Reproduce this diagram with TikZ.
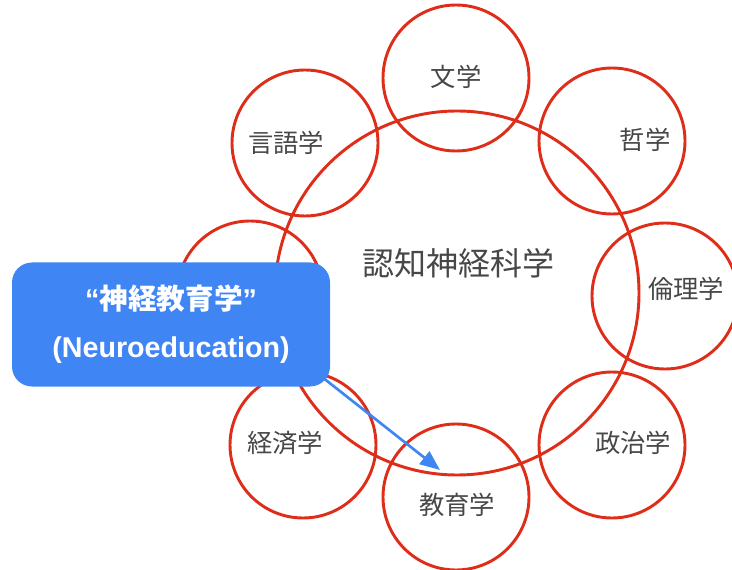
\documentclass[tikz,border=0pt]{standalone}
\usepackage{fontspec}
\setmainfont{Liberation Sans}
\newfontfamily\jp{Noto Sans CJK JP}
\usetikzlibrary{arrows.meta}
\definecolor{ringred}{HTML}{DE2E1A}
\definecolor{boxblue}{HTML}{3F85F4}
\definecolor{labelgray}{HTML}{474747}
\tikzset{
  field/.style={circle, draw=ringred, line width=2.2pt, minimum size=109.5pt, inner sep=0pt},
  core/.style={circle, draw=ringred, line width=2.2pt, minimum size=273pt, inner sep=0pt},
  lbl/.style={text=labelgray, font=\jp\fontsize{19pt}{22pt}\selectfont, inner sep=0pt},
  corelbl/.style={text=labelgray, font=\jp\fontsize{24pt}{28pt}\selectfont, inner sep=0pt},
  callout/.style={fill=boxblue, rounded corners=15pt, minimum width=238.5pt, minimum height=93pt, text=white, align=center, font=\bfseries\fontsize{21.5pt}{36pt}\selectfont, inner sep=0pt},
  pointer/.style={draw=boxblue, line width=2pt, -{Triangle[length=15pt,width=12pt]}}
}
\begin{document}
\begin{tikzpicture}[x=0.75pt,y=0.75pt]
\useasboundingbox (0,0) rectangle (732,-570);
% central circle
\node[core] (cog) at (457,-293) {};
% surrounding circles
\node[field] (wen)   at (456,-78)  {};
\node[field] (zhe)   at (612,-141) {};
\node[field] (lun)   at (665,-296) {};
\node[field] (zheng) at (612,-445) {};
\node[field] (jiao)  at (456,-497) {};
\node[field] (jing)  at (303,-445) {};
\node[field] (hid)   at (250,-294) {};
\node[field] (yan)   at (305,-143) {};
% labels
\node[corelbl] (tcog) at (458,-263) {認知神経科学};
\node[lbl] (twen)   at (456,-77)  {文学};
\node[lbl] (tzhe)   at (645,-140) {哲学};
\node[lbl] (tlun)   at (686,-289) {倫理学};
\node[lbl] (tzheng) at (633,-443) {政治学};
\node[lbl] (tjiao)  at (457,-505) {教育学};
\node[lbl] (tjing)  at (285,-443) {経済学};
\node[lbl] (tyan)   at (286,-143) {言語学};
% callout
\coordinate (tip) at (440,-470);
\node[callout] (box) at (171,-324.5) {“{\jp 神経教育学}”\\(Neuroeducation)};
\draw[pointer] ([xshift=-4.5pt,yshift=6pt]box.south east) -- (tip);
\end{tikzpicture}
\end{document}
